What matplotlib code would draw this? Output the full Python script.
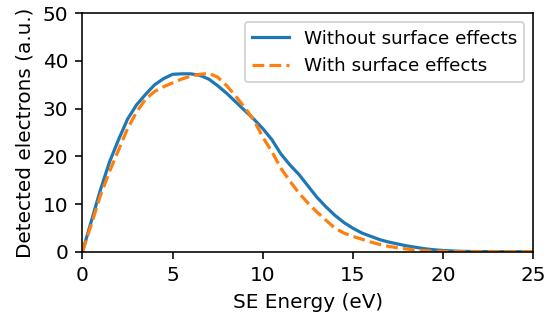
import matplotlib
matplotlib.use("Agg")
import matplotlib.pyplot as plt

energy = [0, 0.5, 1.0, 1.5, 2.0, 2.5, 3.0, 3.5, 4.0, 4.5, 5.0, 5.5, 6.0, 6.5, 7.0, 7.5,
          8.0, 8.5, 9.0, 9.5, 10.0, 10.5, 11.0, 11.5, 12.0, 12.5, 13.0, 13.5, 14.0, 14.5,
          15.0, 15.5, 16.0, 16.5, 17.0, 17.5, 18.0, 18.5, 19.0, 19.5, 20.0, 20.5, 21.0,
          21.5, 22.0, 23.0, 24.0, 25.0]

without_surface = [0, 6.5, 13.0, 18.8, 23.5, 27.8, 30.8, 33.0, 35.0, 36.3, 37.2, 37.3, 37.3,
                   37.0, 36.2, 34.8, 33.2, 31.4, 29.6, 27.8, 25.8, 23.5, 20.5, 18.2, 16.2,
                   13.8, 11.4, 9.4, 7.6, 6.1, 4.9, 3.9, 3.2, 2.5, 2.0, 1.6, 1.2, 0.9, 0.6,
                   0.4, 0.25, 0.15, 0.08, 0.04, 0.02, 0, 0, 0]

with_surface = [0, 5.8, 11.8, 16.8, 21.3, 25.8, 29.3, 32.0, 33.6, 34.6, 35.4, 36.2, 36.8,
                37.2, 37.4, 36.6, 34.8, 32.6, 30.2, 27.6, 24.0, 21.0, 17.5, 14.8, 12.3,
                10.2, 8.3, 6.6, 4.9, 3.9, 3.2, 2.6, 2.0, 1.5, 1.1, 0.8, 0.55, 0.35, 0.2,
                0.1, 0.05, 0.02, 0, 0, 0, 0, 0, 0]

labels = ["Without surface effects", "With surface effects"]

DPI = 144
plt.rcParams["font.size"] = 10
fig = plt.figure(figsize=(546 / DPI, 320 / DPI), dpi=DPI)
ax = fig.add_axes([0.151, 0.2135, 0.826, 0.745])
ax.plot(energy, without_surface, color="#1f77b4", lw=1.6, label=labels[0])
ax.plot(energy, with_surface, color="#ff7f0e", lw=1.6, ls="--", label=labels[1])
ax.set_xlim(0, 25)
ax.set_ylim(0, 50)
ax.set_xticks([0, 5, 10, 15, 20, 25])
ax.set_yticks([0, 10, 20, 30, 40, 50])
ax.set_xlabel("SE Energy (eV)")
ax.set_ylabel("Detected electrons (a.u.)")
ax.legend(loc="upper right", fontsize=9.2)
fig.savefig("out.png", dpi=DPI)
